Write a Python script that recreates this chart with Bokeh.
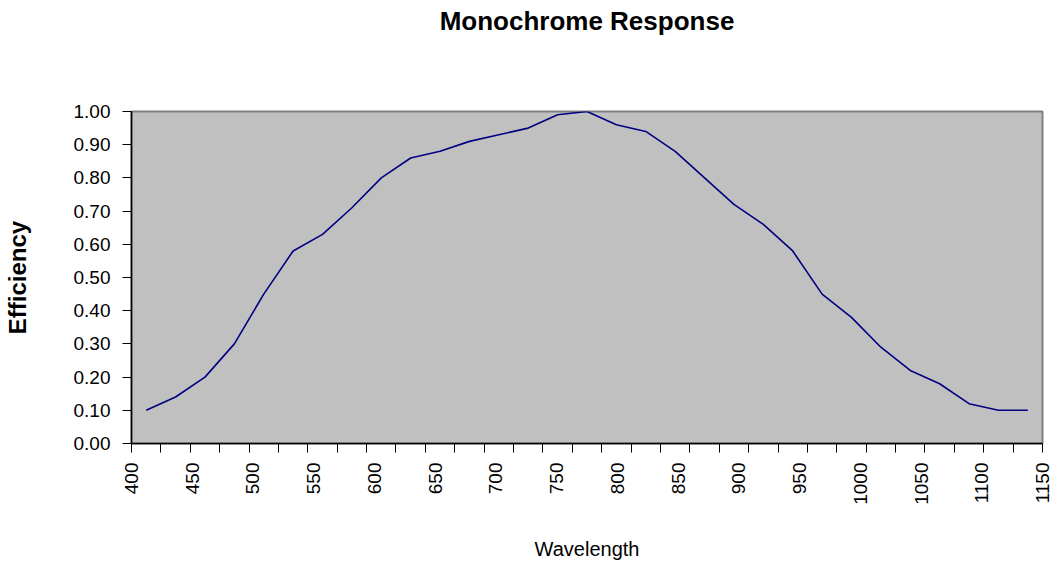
import math
from bokeh.plotting import figure
from bokeh.models import Range1d, FixedTicker, NumeralTickFormatter, ColumnDataSource, LinearAxis
from bokeh.embed import file_html
from bokeh.resources import INLINE

# ---- data ----
title_text = "Monochrome Response"
x_label = "Wavelength"
y_label = "Efficiency"
tick_labels = [400, 450, 500, 550, 600, 650, 700, 750, 800, 850, 900, 950, 1000, 1050, 1100, 1150]
category_index = list(range(31))
efficiency = [0.10, 0.14, 0.20, 0.30, 0.45, 0.58, 0.63, 0.71, 0.80, 0.86,
              0.88, 0.91, 0.93, 0.95, 0.99, 1.00, 0.96, 0.94, 0.88, 0.80,
              0.72, 0.66, 0.58, 0.45, 0.38, 0.29, 0.22, 0.18, 0.12, 0.10, 0.10]
y_ticks = [0.0, 0.1, 0.2, 0.3, 0.4, 0.5, 0.6, 0.7, 0.8, 0.9, 1.0]

# category axis mapped onto the wavelength scale
x_min, x_max = tick_labels[0], tick_labels[-1]
n_cat = len(category_index)
step = (x_max - x_min) / n_cat
x_pos = [x_min + (i + 0.5) * step for i in category_index]
cat_bounds = [x_min + k * step for k in range(n_cat + 1)]

FONT = "Liberation Sans"

W, H = 1054, 562
MB_L, MB_R, MB_T, MB_B = 131, 12, 111, 119

p = figure(width=W, height=H, output_backend="svg", toolbar_location=None,
           x_range=Range1d(x_min, x_max), y_range=Range1d(0, 1),
           min_border_left=MB_L, min_border_right=MB_R, min_border_top=MB_T, min_border_bottom=MB_B)
p.title.visible = False

p.background_fill_color = "#C0C0C0"
p.border_fill_color = "white"
p.outline_line_color = "#808080"
p.outline_line_width = 2
p.xgrid.visible = False
p.ygrid.visible = False

xa = p.below[0]
ya = p.left[0]

src = ColumnDataSource(dict(x=x_pos, y=efficiency))
p.line("x", "y", source=src, line_color="#000080", line_width=1.6)

# chart title drawn as the label of a tickless axis above the frame
ta = LinearAxis(ticker=FixedTicker(ticks=[]), axis_label=title_text)
ta.axis_line_color = None
ta.major_tick_line_color = None
ta.minor_tick_line_color = None
ta.major_tick_out = 0
ta.minor_tick_out = 0
ta.major_label_standoff = 0
ta.axis_label_standoff = 76
ta.axis_label_text_font = FONT
ta.axis_label_text_font_size = "26px"
ta.axis_label_text_font_style = "bold"
ta.axis_label_text_color = "black"
p.add_layout(ta, "above")

xa.ticker = FixedTicker(ticks=tick_labels, minor_ticks=cat_bounds)
xa.major_tick_line_color = None
xa.minor_tick_line_color = "black"
xa.minor_tick_in = 0
xa.minor_tick_out = 9
xa.axis_line_color = "black"
xa.axis_line_width = 1.5
xa.major_label_orientation = math.pi / 2
xa.major_label_standoff = 10
xa.major_label_text_font = FONT
xa.major_label_text_font_size = "19px"
xa.major_label_text_color = "black"
xa.axis_label = x_label
xa.axis_label_text_font = FONT
xa.axis_label_text_font_size = "20px"
xa.axis_label_text_font_style = "normal"
xa.axis_label_text_color = "black"
xa.axis_label_standoff = 30

ya.ticker = FixedTicker(ticks=y_ticks)
ya.formatter = NumeralTickFormatter(format="0.00")
ya.major_tick_in = 0
ya.major_tick_out = 9
ya.minor_tick_line_color = None
ya.major_tick_line_color = "black"
ya.axis_line_color = "black"
ya.axis_line_width = 1.5
ya.major_label_standoff = 12
ya.major_label_text_font = FONT
ya.major_label_text_font_size = "19px"
ya.major_label_text_color = "black"
ya.axis_label = y_label
ya.axis_label_text_font = FONT
ya.axis_label_text_font_size = "24px"
ya.axis_label_text_font_style = "bold"
ya.axis_label_text_color = "black"
ya.axis_label_standoff = 40

open("out.html", "w").write(file_html(p, INLINE))
